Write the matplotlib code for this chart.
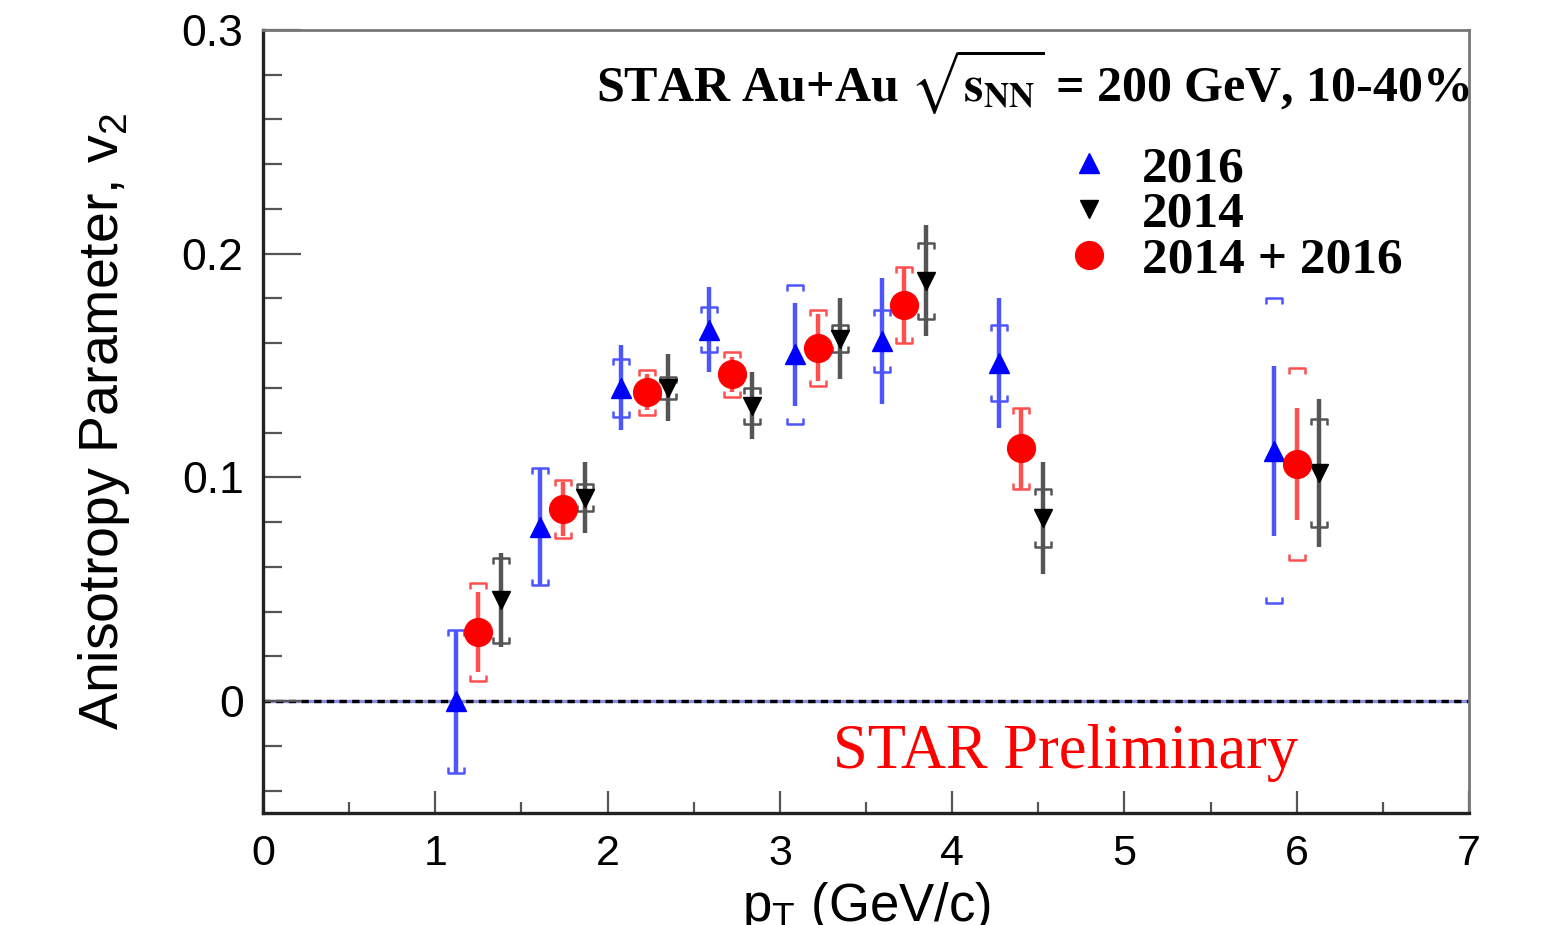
import matplotlib
matplotlib.use("Agg")
import matplotlib.pyplot as plt
from matplotlib.lines import Line2D
from matplotlib.path import Path
from matplotlib.ticker import MultipleLocator

# v2 vs pT, Au+Au 200 GeV, 10-40% centrality
pt_2016 = [1.12, 1.61, 2.08, 2.59, 3.09, 3.59, 4.27, 5.87]
v2_2016 = [0.000, 0.078, 0.140, 0.166, 0.155, 0.161, 0.151, 0.112]
stat_2016 = [0.032, 0.026, 0.019, 0.019, 0.023, 0.028, 0.029, 0.038]
sys_2016 = [0.032, 0.026, 0.013, 0.010, 0.031, 0.014, 0.017, 0.068]

pt_2014 = [1.38, 1.87, 2.35, 2.84, 3.35, 3.85, 4.53, 6.13]
v2_2014 = [0.045, 0.091, 0.140, 0.132, 0.162, 0.188, 0.082, 0.102]
stat_2014 = [0.021, 0.016, 0.015, 0.015, 0.018, 0.025, 0.025, 0.033]
sys_2014 = [0.019, 0.006, 0.005, 0.008, 0.006, 0.017, 0.013, 0.024]

pt_comb = [1.25, 1.74, 2.23, 2.72, 3.22, 3.72, 4.40, 6.00]
v2_comb = [0.031, 0.086, 0.138, 0.146, 0.158, 0.177, 0.113, 0.106]
stat_comb = [0.018, 0.012, 0.008, 0.008, 0.015, 0.017, 0.018, 0.025]
sys_comb = [0.022, 0.013, 0.010, 0.010, 0.017, 0.017, 0.018, 0.043]

SANS = ["Liberation Sans", "DejaVu Sans"]
SERIF = ["Liberation Serif", "DejaVu Serif"]

# bracket markers for systematic errors
cap_top = Path([(-1, -0.7), (-1, 0), (1, 0), (1, -0.7)],
               [Path.MOVETO, Path.LINETO, Path.LINETO, Path.LINETO])
cap_bot = Path([(-1, 0.7), (-1, 0), (1, 0), (1, 0.7)],
               [Path.MOVETO, Path.LINETO, Path.LINETO, Path.LINETO])

fig = plt.figure(figsize=(15.51, 9.25), dpi=100)
ax = fig.add_axes([0.1696, 0.1211, 0.7775, 0.8465])
ax.set_xlim(0, 7)
ax.set_ylim(-0.05, 0.3)

# zero line
ax.axhline(0, color="#8a8ee0", lw=2.4, zorder=1)
ax.axhline(0, color="black", lw=2.4, ls=(0, (2.2, 1.6)), zorder=1.1)


def draw_series(x, y, stat, sys, color, bar_color, marker, ms):
    ax.errorbar(x, y, yerr=stat, fmt="none", ecolor=bar_color,
                elinewidth=3.2, capsize=0, zorder=2)
    up = [a + b for a, b in zip(y, sys)]
    dn = [a - b for a, b in zip(y, sys)]
    ax.plot(x, up, ls="none", marker=cap_top, ms=12, mfc="none",
            mec=bar_color, mew=1.8, zorder=2)
    ax.plot(x, dn, ls="none", marker=cap_bot, ms=12, mfc="none",
            mec=bar_color, mew=1.8, zorder=2)
    ax.plot(x, y, ls="none", marker=marker, ms=ms, color=color,
            mec=color, zorder=3)


draw_series(pt_2016, v2_2016, stat_2016, sys_2016, "#0000ff", "#4d55ff", "^", 15)
draw_series(pt_2014, v2_2014, stat_2014, sys_2014, "black", "#555555", "v", 13)
draw_series(pt_comb, v2_comb, stat_comb, sys_comb, "#ff0000", "#ff5050", "o", 20)

# frame
for side in ["left", "bottom"]:
    ax.spines[side].set_linewidth(2.4)
    ax.spines[side].set_color("#222222")
for side in ["top", "right"]:
    ax.spines[side].set_linewidth(2.0)
    ax.spines[side].set_color("#777777")

ax.xaxis.set_major_locator(MultipleLocator(1))
ax.xaxis.set_minor_locator(MultipleLocator(0.5))
ax.yaxis.set_major_locator(MultipleLocator(0.1))
ax.yaxis.set_minor_locator(MultipleLocator(0.02))
ax.tick_params(axis="x", which="major", direction="in", length=16, width=1.6,
               color="#555555", pad=15, labelsize=31)
ax.tick_params(axis="x", which="minor", direction="in", length=8, width=1.6,
               color="#555555")
ax.tick_params(axis="y", which="major", direction="in", length=27, width=1.6,
               color="#555555", pad=14, labelsize=32)
ax.tick_params(axis="y", which="minor", direction="in", length=14, width=1.6,
               color="#555555")
ax.set_xticks(range(0, 8))
ax.set_xticklabels([str(i) for i in range(0, 8)])
ax.set_yticks([0, 0.1, 0.2, 0.3])
ax.set_yticklabels(["0", "0.1", "0.2", "0.3"])
for lab in ax.get_xticklabels() + ax.get_yticklabels():
    lab.set_family(SANS)

ax.set_ylabel(r"Anisotropy Parameter, v$_\mathregular{2}$", family=SANS,
              fontsize=40)
ax.yaxis.set_label_coords(-0.109, 0.5)
ax.set_xlabel(r"p$_\mathregular{T}$ (GeV/c)", family=SANS, fontsize=38,
              va="top")
ax.xaxis.set_label_coords(0.50, -0.0856)

ax.text(1.0008, 0.909,
        r"STAR Au+Au $\sqrt{\mathbf{s}_{\mathbf{NN}}}$ = 200 GeV, 10-40%",
        transform=ax.transAxes, ha="right", va="baseline", family=SERIF,
        fontweight="bold", fontsize=36, math_fontfamily="stix")
ax.text(0.4726, 0.0575, "STAR Preliminary", transform=ax.transAxes,
        ha="left", va="baseline", family=SERIF, fontsize=45, color="#ff0000")

handles = [
    Line2D([], [], ls="none", marker="^", ms=15, color="#0000ff"),
    Line2D([], [], ls="none", marker="v", ms=13, color="black"),
    Line2D([], [], ls="none", marker="o", ms=20, color="#ff0000"),
]
ax.legend(handles, ["2016", "2014", "2014 + 2016"], loc="upper left",
          bbox_to_anchor=(0.664, 0.853), frameon=False, borderpad=0,
          borderaxespad=0, handlelength=1.0, handletextpad=0.52,
          labelspacing=-0.02, prop={"family": SERIF, "weight": "bold",
                                    "size": 37})

fig.savefig("out.png", dpi=100)
